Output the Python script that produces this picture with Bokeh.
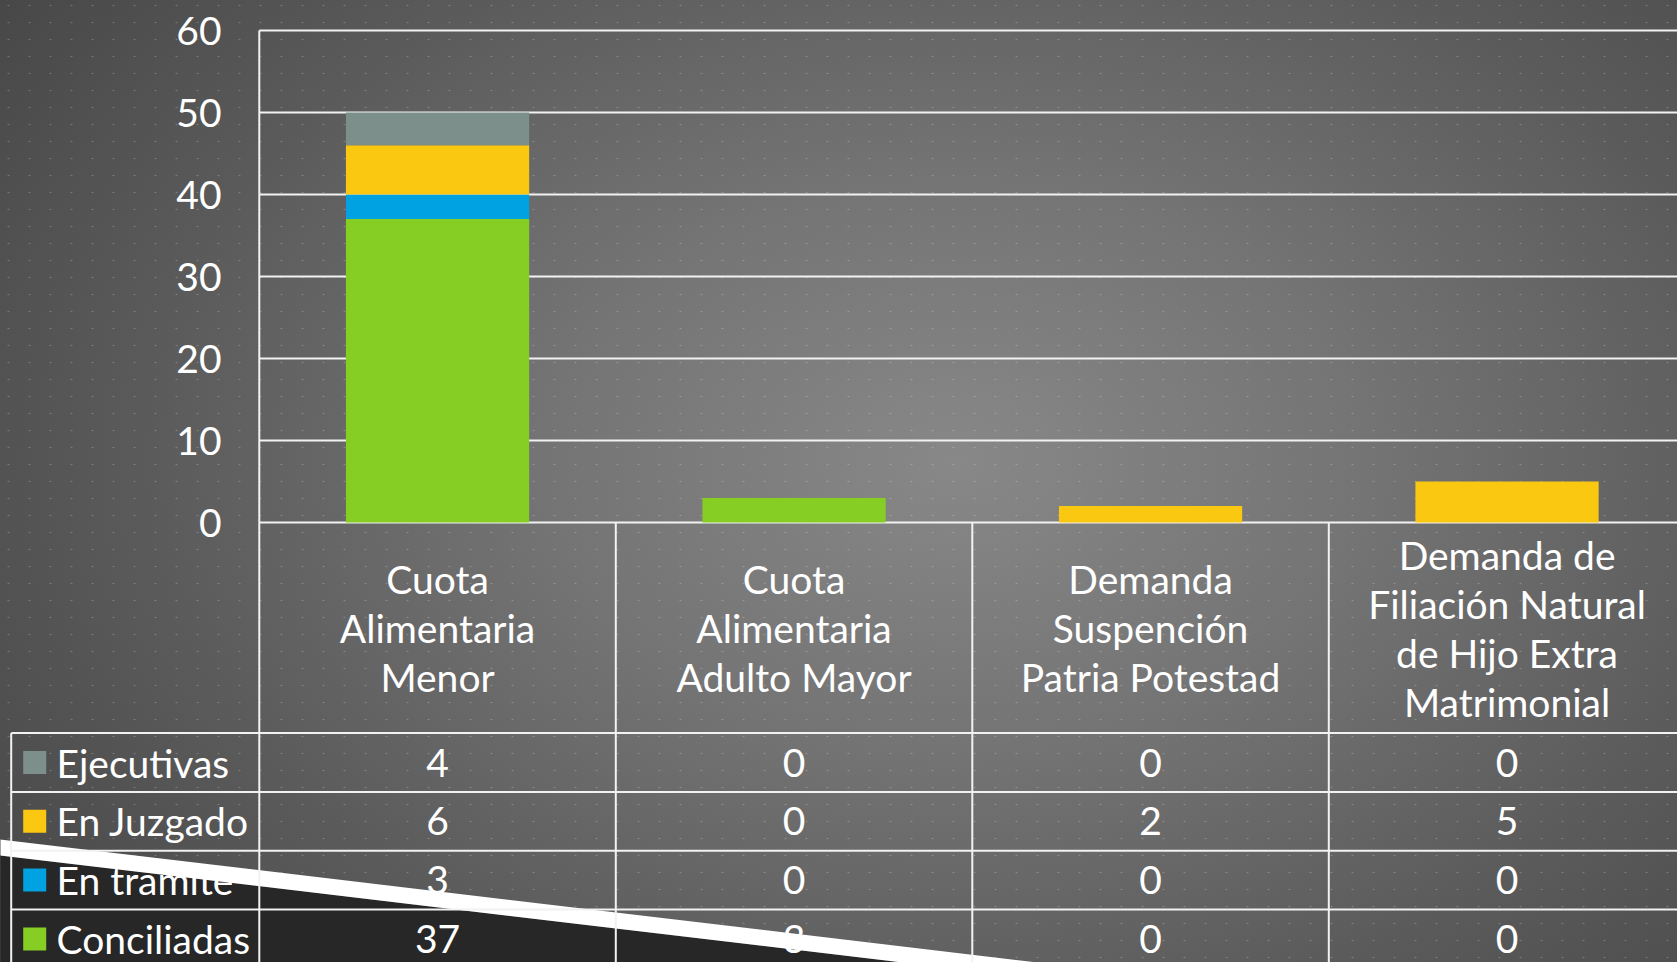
from bokeh.plotting import figure
from bokeh.models import ColumnDataSource, Range1d
from bokeh.core.properties import value
from bokeh.embed import file_html
from bokeh.resources import INLINE

# ---------------- data ----------------
categories = [
    "Cuota\nAlimentaria\nMenor",
    "Cuota\nAlimentaria\nAdulto Mayor",
    "Demanda\nSuspención\nPatria Potestad",
    "Demanda de\nFiliación Natural\nde Hijo Extra\nMatrimonial",
]
series_names = ["Conciliadas", "En tramite", "En Juzgado", "Ejecutivas"]  # bottom -> top
conciliadas = [37, 3, 0, 0]
en_tramite = [3, 0, 0, 0]
en_juzgado = [6, 0, 2, 5]
ejecutivas = [4, 0, 0, 0]
series_colors = ["#86CE24", "#00A2E2", "#FAC711", "#7C8F8A"]
y_ticks = [0, 10, 20, 30, 40, 50, 60]

# ---------------- layout (page pixels) ----------------
W, H, OFF = 1677, 962, 0
COL0, COLW = 258.8, 356.5          # first category column left edge, column width
Y0, PXU = 522.0, 8.2               # pixel of value 0, pixels per unit
HEAD_MID, HEAD_LH = 627.7, 49.0
HEAD_BOTTOM, ROW_H = 732.6, 58.8
LEG_LEFT = 10.7
FONT = value("Lato")
FS = "39px"
WHITE = "#ffffff"
LINE = "#f2f2f2"

n = len(categories)
xs = [i + 0.5 for i in range(n)]

p = figure(
    width=W, height=H, output_backend="svg", toolbar_location=None, tools="",
    x_range=Range1d((OFF - COL0) / COLW, (OFF + W - COL0) / COLW),
    y_range=Range1d((Y0 - (OFF + H)) / PXU, (Y0 - OFF) / PXU),
    x_axis_location=None, y_axis_location=None, min_border=0,
    min_border_left=0, min_border_right=0, min_border_top=0, min_border_bottom=0,
    outline_line_color=None, background_fill_color=None, border_fill_color=None,
)
p.grid.visible = False
p.extra_x_ranges = {"px": Range1d(OFF, OFF + W)}
p.extra_y_ranges = {"px": Range1d(OFF + H, OFF)}
p.styles = {
    "background-color": "#5c5c5c",
    "background-image": (
        "radial-gradient(ellipse 1.8px 1.1px at 50% 50%, rgba(255,255,255,0.22) 0%, rgba(255,255,255,0.0) 100%),"
        "radial-gradient(ellipse 70% 85% at 57% 48%, #888888 0%, #747474 35%, #5a5a5a 70%, #474747 100%)"
    ),
    "background-size": "21px 17px, 100% 100%",
    "background-position": "-2px -3px, 0 0",
}

# decorative dark corner + white stripe of the slide
slope = 0.1186
p.patch(x=[-20, 1100, -20], y=[855 - 20 * slope, 855 + 1100 * slope, 1100],
        x_range_name="px", y_range_name="px", fill_color="#272727", line_color=None)
p.patch(x=[-20, 1200, 1200, -20],
        y=[839 - 20 * slope, 839 + 1200 * slope, 855 + 1200 * slope, 855 - 20 * slope],
        x_range_name="px", y_range_name="px", fill_color="#ffffff", line_color=None)

# gridlines (value axis)
p.segment(x0=[0] * len(y_ticks), x1=[n + 1] * len(y_ticks), y0=y_ticks, y1=y_ticks,
          line_color=LINE, line_width=2)
# vertical axis line running down through the table
p.segment(x0=[0], x1=[0], y0=[Y0 - max(y_ticks) * PXU], y1=[1000],
          y_range_name="px", line_color=LINE, line_width=2)

# stacked bars
src = ColumnDataSource(dict(x=xs, Conciliadas=conciliadas, **{"En tramite": en_tramite},
                            **{"En Juzgado": en_juzgado}, Ejecutivas=ejecutivas))
p.vbar_stack(series_names, x="x", width=0.514, fill_color=series_colors,
             line_color=None, source=src)

# table lines
p.segment(x0=[i + 1 for i in range(n)], x1=[i + 1 for i in range(n)],
          y0=[Y0] * n, y1=[1000] * n, y_range_name="px", line_color=LINE, line_width=2)
p.segment(x0=[LEG_LEFT], x1=[LEG_LEFT], y0=[HEAD_BOTTOM], y1=[1000],
          x_range_name="px", y_range_name="px", line_color=LINE, line_width=2)
row_lines = [HEAD_BOTTOM + k * ROW_H for k in range(len(series_names))]
p.segment(x0=[LEG_LEFT] * len(row_lines), x1=[1800] * len(row_lines), y0=row_lines, y1=row_lines,
          x_range_name="px", y_range_name="px", line_color=LINE, line_width=2)

# y tick labels
p.text(x=[221] * len(y_ticks), y=y_ticks, text=[str(t) for t in y_ticks],
       x_range_name="px", text_align="right", text_baseline="middle",
       text_font=FONT, text_font_size=FS, text_color=WHITE)

# header (category) labels
hx, hy, ht = [], [], []
for i, cat in enumerate(categories):
    lines = cat.split("\n")
    for k, ln in enumerate(lines):
        hx.append(xs[i])
        hy.append(HEAD_MID + (k - (len(lines) - 1) / 2) * HEAD_LH)
        ht.append(ln)
p.text(x=hx, y=hy, text=ht, y_range_name="px", text_align="center",
       text_baseline="middle", text_font=FONT, text_font_size=FS, text_color=WHITE)

# table rows: top row = top of stack
table_series = list(zip(series_names, [conciliadas, en_tramite, en_juzgado, ejecutivas], series_colors))[::-1]
for r, (name, vals, col) in enumerate(table_series):
    yc = HEAD_BOTTOM + (r + 0.5) * ROW_H
    p.scatter(x=[34.2], y=[yc], marker="square", size=23, fill_color=col, line_color=None,
              x_range_name="px", y_range_name="px")
    p.text(x=[56.0], y=[yc], text=[name], x_range_name="px", y_range_name="px",
           text_align="left", text_baseline="middle", text_font=FONT, text_font_size=FS,
           text_color=WHITE)
    p.text(x=xs, y=[yc] * n, text=[str(v) for v in vals], y_range_name="px",
           text_align="center", text_baseline="middle", text_font=FONT, text_font_size=FS,
           text_color=WHITE)

open("out.html", "w").write(file_html(p, INLINE))
